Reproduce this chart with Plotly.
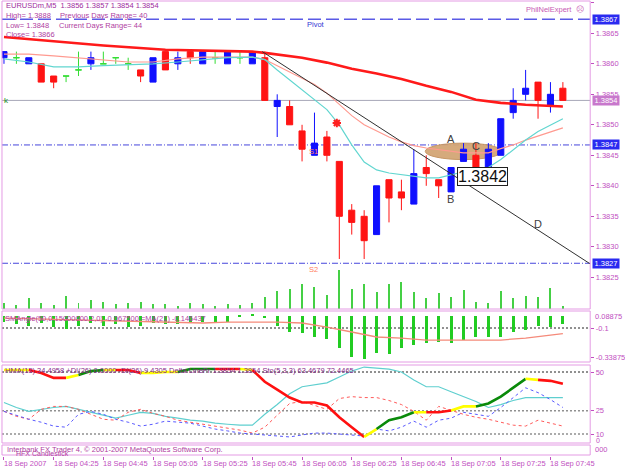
import plotly.graph_objects as go
import pandas as pd

# ---------------- data ----------------
times = list(pd.date_range("2007-09-18 04:05", periods=46, freq="5min"))

opens = [1.3861, 1.3861, 1.3860, 1.3860, 1.3858, 1.3858, 1.3859, 1.3860, 1.3860, 1.3861,
         1.3860, 1.3859, 1.3857, 1.3862, 1.3860, 1.3862, 1.3860, 1.3861, 1.3860, 1.3861,
         1.3860, 1.3861, 1.3853, 1.3853, 1.3849, 1.3845, 1.3848, 1.3844, 1.3836, 1.3835,
         1.3832, 1.3841, 1.3839, 1.3837, 1.3843, 1.3841, 1.3839, 1.3844, 1.3845, 1.3843,
         1.3845, 1.3852, 1.3855, 1.3857, 1.3853, 1.3856]
highs = [1.3862, 1.3862, 1.3861, 1.3860, 1.3858, 1.3858, 1.3862, 1.3862, 1.3862, 1.3861,
         1.3861, 1.3859, 1.3861, 1.3862, 1.3862, 1.3862, 1.3862, 1.3862, 1.3862, 1.3862,
         1.3862, 1.3862, 1.3855, 1.3854, 1.3850, 1.3852, 1.3849, 1.3844, 1.3837, 1.3836,
         1.3840, 1.3841, 1.3841, 1.3846, 1.3845, 1.3841, 1.3843, 1.3847, 1.3847, 1.3847,
         1.3851, 1.3856, 1.3859, 1.3857, 1.3857, 1.3857]
lows = [1.3860, 1.3860, 1.3860, 1.3857, 1.3856, 1.3857, 1.3858, 1.3859, 1.3860, 1.3860,
        1.3859, 1.3857, 1.3857, 1.3859, 1.3859, 1.3860, 1.3860, 1.3860, 1.3860, 1.3860,
        1.3860, 1.3854, 1.3848, 1.3850, 1.3844, 1.3845, 1.3844, 1.3828, 1.3832, 1.3828,
        1.3832, 1.3834, 1.3836, 1.3837, 1.3840, 1.3838, 1.3839, 1.3844, 1.3842, 1.3843,
        1.3845, 1.3851, 1.3854, 1.3851, 1.3852, 1.3854]
closes = [1.3862, 1.3861, 1.3861, 1.3857, 1.3857, 1.3858, 1.3859, 1.3861, 1.3860, 1.3861,
          1.3860, 1.3858, 1.3861, 1.3859, 1.3861, 1.3861, 1.3862, 1.3861, 1.3862, 1.3861,
          1.3862, 1.3854, 1.3854, 1.3850, 1.3846, 1.3847, 1.3845, 1.3835, 1.3834, 1.3831,
          1.3840, 1.3838, 1.3838, 1.3842, 1.3842, 1.3840, 1.3843, 1.3846, 1.3842, 1.3846,
          1.3851, 1.3854, 1.3856, 1.3854, 1.3855, 1.3854]
volumes = [24, 16, 44, 24, 16, 52, 24, 36, 28, 20, 24, 28, 20, 20, 12, 24, 20, 12, 20, 16,
           24, 48, 72, 80, 100, 88, 56, 156, 80, 100, 68, 100, 108, 68, 44, 64, 48, 76, 28, 24,
           72, 44, 52, 48, 84, 12]

ma_slow_bars = [0, 3, 8, 13, 20, 21, 24, 26, 28, 30, 32, 34, 36, 38, 40, 42, 44, 45]
ma_slow_vals = [1.38644, 1.38639, 1.38630, 1.38623, 1.38620, 1.38618, 1.38610, 1.38602, 1.38592,
                1.38584, 1.38575, 1.38564, 1.38554, 1.38541, 1.38536, 1.38533, 1.38531, 1.38530]
ma_mid_bars = [0, 2, 4, 6, 8, 10, 12, 14, 16, 18, 20, 21, 22, 23, 24, 25, 26, 27, 28, 29, 30,
               31, 32, 33, 34, 35, 36, 37, 38, 39, 40, 41, 42, 43, 44, 45]
ma_mid_vals = [1.38616, 1.38616, 1.38613, 1.38610, 1.38607, 1.38603, 1.38603, 1.38608, 1.38611,
               1.38611, 1.38611, 1.38607, 1.38597, 1.38587, 1.38577, 1.38566, 1.38552, 1.38534,
               1.38515, 1.38500, 1.38490, 1.38480, 1.38472, 1.38466, 1.38462, 1.38459, 1.38456,
               1.38454, 1.38454, 1.38454, 1.38461, 1.38467, 1.38475, 1.38482, 1.38489, 1.38495]
ma_fast_bars = ma_mid_bars
ma_fast_vals = [1.38608, 1.38603, 1.38595, 1.38595, 1.38597, 1.38598, 1.38600, 1.38603, 1.38607,
                1.38610, 1.38611, 1.38607, 1.38590, 1.38574, 1.38557, 1.38541, 1.38525, 1.38500,
                1.38467, 1.38439, 1.38426, 1.38421, 1.38418, 1.38415, 1.38413, 1.38413, 1.38418,
                1.38423, 1.38426, 1.38430, 1.38443, 1.38459, 1.38475, 1.38489, 1.38500, 1.38510]

trend_times = ["2007-09-18 05:49", "2007-09-18 08:01"]
trend_prices = [1.38620, 1.38272]

pivot_levels = {"pivot": 1.38673, "s1": 1.38467, "s2": 1.38273}
bid_price = 1.3854
price_ticks = [1.3825, 1.3830, 1.3835, 1.3840, 1.3845, 1.3850, 1.3855, 1.3860, 1.3865, 1.3870]

# SMAngle panel
sma_hist = [-0.05, -0.07, -0.08, -0.06, -0.09, -0.11, -0.08, -0.06, -0.08, -0.07, -0.09, -0.08,
            -0.06, -0.07, -0.07, -0.06, -0.05, -0.06, -0.05, -0.01, 0.01, -0.02,
            -0.084, -0.133, -0.142, -0.174, -0.191, -0.265, -0.339, -0.356, -0.306, -0.314,
            -0.265, -0.240, -0.224, -0.216, -0.224, -0.199, -0.174, -0.174, -0.174, -0.133,
            -0.117, -0.084, -0.092, -0.0675]
sma_ma_bars = [0, 9, 16, 18, 22, 24, 26, 28, 30, 32, 34, 36, 38, 40, 42, 44, 45]
sma_ma_vals = [-0.018, -0.043, -0.059, -0.051, -0.051, -0.059, -0.092, -0.133, -0.174, -0.183,
               -0.199, -0.199, -0.199, -0.199, -0.183, -0.158, -0.146]

# lower oscillator panel
osc_main = [51.3, 51.3, 51.3, 49.4, 46.2, 46.2, 48.1, 50.6, 51.3, 51.3, 51.3, 49.4, 49.4, 50.0,
            50.0, 51.9, 51.9, 51.9, 51.9, 51.9, 51.3, 43.7, 38.6, 33.5, 30.3, 30.3, 28.4, 20.8,
            14.4, 8.1, 13.2, 18.9, 20.8, 24.0, 24.0, 24.0, 25.2, 27.8, 27.8, 29.7, 34.1, 39.8,
            45.6, 44.9, 44.3, 42.4]
osc_state = ["Y", "Y", "Y", "R", "R", "R", "Y", "G", "G", "Y", "R", "R", "Y", "Y", "Y", "G", "G",
             "G", "R", "R", "Y", "R", "R", "R", "R", "R", "R", "R", "R", "R", "Y", "G", "G", "G",
             "Y", "R", "R", "Y", "Y", "G", "G", "G", "G", "Y", "R", "R"]
osc_cyan = [30.3, 27.1, 24.6, 25.9, 27.1, 27.8, 25.9, 24.0, 22.1, 20.2, 22.1, 24.0, 23.3, 21.4,
            20.2, 18.9, 18.3, 17.0, 16.3, 15.7, 15.7, 22.7, 29.0, 36.0, 40.5, 41.7, 43.0, 46.8,
            50.6, 53.2, 52.5, 51.9, 50.0, 44.9, 40.5, 40.5, 37.3, 34.1, 31.0, 27.1, 29.0, 31.6,
            33.5, 33.5, 33.5, 33.5]
osc_red = [24.6, 21.4, 19.5, 25.9, 27.8, 27.8, 25.9, 22.7, 19.5, 18.9, 24.0, 25.9, 23.3, 21.4,
           18.9, 17.6, 16.3, 15.1, 13.8, 12.5, 10.6, 14.4, 22.1, 29.7, 31.0, 28.4, 25.9, 32.9,
           34.1, 33.5, 33.5, 31.6, 29.0, 24.6, 18.9, 27.8, 25.2, 22.7, 20.8, 19.5, 17.6, 15.7,
           15.1, 18.9, 17.0, 15.1]
osc_blue = [24.6, 22.1, 19.5, 17.6, 15.1, 14.4, 22.7, 24.6, 22.7, 19.5, 17.6, 15.1, 16.3, 18.3,
            17.6, 17.0, 15.1, 13.2, 12.0, 10.6, 10.0, 9.4, 8.7, 8.1, 9.4, 10.6, 10.6, 10.0, 9.4,
            8.7, 13.2, 12.0, 14.4, 18.3, 14.4, 18.9, 20.2, 24.0, 22.7, 21.4, 27.1, 33.5, 39.8,
            36.7, 32.2, 27.1]
osc_levels = [50, 25, 10]

tick_times = ["2007-09-18 04:05", "2007-09-18 04:25", "2007-09-18 04:45", "2007-09-18 05:05",
              "2007-09-18 05:25", "2007-09-18 05:45", "2007-09-18 06:05", "2007-09-18 06:25",
              "2007-09-18 06:45", "2007-09-18 07:05", "2007-09-18 07:25", "2007-09-18 07:45"]
tick_texts = ["18 Sep 2007", "18 Sep 04:25", "18 Sep 04:45", "18 Sep 05:05", "18 Sep 05:25",
              "18 Sep 05:45", "18 Sep 06:05", "18 Sep 06:25", "18 Sep 06:45", "18 Sep 07:05",
              "18 Sep 07:25", "18 Sep 07:45"]

# ---------------- layout helpers ----------------
W, H = 625, 469
def px(x):
    return x / W
def py(y):
    return 1 - y / H

FONT = "Liberation Sans"
PINK = "#c14fc1"
BORDER = "#e49be4"
XDOM = [px(2), px(594)]

fig = go.Figure()

# candles
bull = [i for i in range(46) if closes[i] > opens[i]]
bear = [i for i in range(46) if closes[i] < opens[i]]
doji = [i for i in range(46) if closes[i] == opens[i]]
for idx, col in ((bull, "#1010ff"), (bear, "#ff1414"), (doji, "#33dd33")):
    fig.add_trace(go.Candlestick(
        x=[times[i] for i in idx], open=[opens[i] for i in idx], high=[highs[i] for i in idx],
        low=[lows[i] for i in idx], close=[closes[i] for i in idx],
        increasing=dict(line=dict(color=col, width=1), fillcolor=col),
        decreasing=dict(line=dict(color=col, width=1), fillcolor=col),
        whiskerwidth=0, showlegend=False, hoverinfo="skip", xaxis="x", yaxis="y"))

# moving averages
fig.add_trace(go.Scatter(x=[times[i] for i in ma_mid_bars], y=ma_mid_vals, mode="lines",
                         line=dict(color="#ff9a90", width=1.2), xaxis="x", yaxis="y", showlegend=False))
fig.add_trace(go.Scatter(x=[times[i] for i in ma_fast_bars], y=ma_fast_vals, mode="lines",
                         line=dict(color="#62d6d0", width=1.2), xaxis="x", yaxis="y", showlegend=False))
fig.add_trace(go.Scatter(x=[times[i] for i in ma_slow_bars], y=ma_slow_vals, mode="lines",
                         line=dict(color="#ff1a1a", width=2.6), xaxis="x", yaxis="y", showlegend=False))
# trend line
fig.add_trace(go.Scatter(x=trend_times, y=trend_prices, mode="lines",
                         line=dict(color="#303030", width=1), xaxis="x", yaxis="y", showlegend=False))
# red star object
fig.add_trace(go.Scatter(x=["2007-09-18 06:19"], y=[1.38503], mode="markers",
                         marker=dict(symbol="asterisk-open", size=7, color="#ff2020",
                                     line=dict(color="#ff2020", width=2)),
                         xaxis="x", yaxis="y", showlegend=False))

# volumes (overlay on main)
fig.add_trace(go.Bar(x=times, y=volumes, width=24000, marker=dict(color="#45d045", line_width=0),
                     xaxis="x", yaxis="y5", showlegend=False))

# SMAngle histogram + MA
fig.add_trace(go.Bar(x=times, y=sma_hist, width=72000, marker=dict(color="#22cc22", line_width=0),
                     xaxis="x", yaxis="y2", showlegend=False))
fig.add_trace(go.Scatter(x=[times[i] for i in sma_ma_bars], y=sma_ma_vals, mode="lines",
                         line=dict(color="#f58a7a", width=1.3), xaxis="x", yaxis="y2", showlegend=False))

# oscillator panel
fig.add_trace(go.Scatter(x=times, y=osc_cyan, mode="lines", line=dict(color="#5fcfcf", width=1.2),
                         xaxis="x", yaxis="y3", showlegend=False))
fig.add_trace(go.Scatter(x=times, y=osc_red, mode="lines",
                         line=dict(color="#ff5a5a", width=1, dash="3px,3px"),
                         xaxis="x", yaxis="y3", showlegend=False))
fig.add_trace(go.Scatter(x=times, y=osc_blue, mode="lines",
                         line=dict(color="#5a5aff", width=1, dash="3px,3px"),
                         xaxis="x", yaxis="y3", showlegend=False))
state_col = {"Y": "#ffff00", "R": "#ff1010", "G": "#0a8a0a"}
start = 0
for i in range(1, 46):
    end_run = (i == 45) or (osc_state[i + 1] != osc_state[i])
    if end_run:
        seg = list(range(start, i + 1))
        fig.add_trace(go.Scatter(x=[times[k] for k in seg], y=[osc_main[k] for k in seg],
                                 mode="lines", line=dict(color=state_col[osc_state[i]], width=2.6),
                                 xaxis="x", yaxis="y3", showlegend=False))
        start = i

# ---------------- axes ----------------
axis_common = dict(showgrid=False, zeroline=False, showline=False, side="right", anchor="x",
                   ticks="outside", ticklen=3, tickcolor=PINK,
                   tickfont=dict(family=FONT, size=7.5, color=PINK))
fig.update_layout(
    width=W, height=H, margin=dict(l=0, r=0, t=0, b=0),
    paper_bgcolor="white", plot_bgcolor="rgba(0,0,0,0)",
    font=dict(family=FONT, size=8, color=PINK),
    showlegend=False, bargap=0, boxmode="overlay",
    xaxis=dict(domain=XDOM, range=["2007-09-18 04:04:12", "2007-09-18 08:01:00"],
               type="date", rangeslider=dict(visible=False), showgrid=False, zeroline=False,
               showline=False, showticklabels=False, anchor="free", position=py(456),
               tickvals=tick_times, ticks="outside", ticklen=3, tickcolor=PINK),
    yaxis=dict(domain=[py(309), py(1)], range=[1.38198, 1.38703], tickvals=price_ticks,
               ticktext=["%.4f" % v for v in price_ticks], **axis_common),
    yaxis5=dict(overlaying="y", range=[0, 1232], visible=False, anchor="x"),
    yaxis2=dict(domain=[py(362), py(311)], range=[-0.3798, 0.0399],
                tickvals=[-0.1, -0.33875], ticktext=["-0.1", "-0.33875"], **axis_common),
    yaxis3=dict(domain=[py(443), py(365)], range=[4.19, 54.52],
                tickvals=osc_levels, ticktext=[str(v) for v in osc_levels], **axis_common),
    yaxis4=dict(domain=[py(455), py(445)], range=[0, 1], showticklabels=False, ticks="",
                showgrid=False, zeroline=False, anchor="x", side="right"),
)

shapes = []
# panel borders
for top, bot in ((1, 309), (311, 362), (365, 443), (445, 455)):
    shapes.append(dict(type="rect", xref="paper", yref="paper", x0=px(2), x1=px(594),
                       y0=py(bot), y1=py(top), line=dict(color=BORDER, width=1), layer="above"))
# horizontal levels
shapes.append(dict(type="line", xref="paper", yref="y", x0=XDOM[0], x1=XDOM[1],
                   y0=pivot_levels["pivot"], y1=pivot_levels["pivot"],
                   line=dict(color="#5a5ae6", width=1.6, dash="13px,5px"), layer="below"))
for k in ("s1", "s2"):
    shapes.append(dict(type="line", xref="paper", yref="y", x0=XDOM[0], x1=XDOM[1],
                       y0=pivot_levels[k], y1=pivot_levels[k],
                       line=dict(color="#4646dc", width=1, dash="6px,2px,1px,2px"), layer="below"))
shapes.append(dict(type="line", xref="paper", yref="y", x0=XDOM[0], x1=XDOM[1],
                   y0=bid_price, y1=bid_price, line=dict(color="#a8a8b8", width=1), layer="below"))
shapes.append(dict(type="line", xref="paper", yref="y2", x0=XDOM[0], x1=XDOM[1],
                   y0=-0.1, y1=-0.1, line=dict(color="#202020", width=1, dash="2px,2px"), layer="below"))
for v, c in zip(osc_levels, ("#202020", "#909090", "#909090")):
    shapes.append(dict(type="line", xref="paper", yref="y3", x0=XDOM[0], x1=XDOM[1],
                       y0=v, y1=v, line=dict(color=c, width=1.5 if c != "#202020" else 1,
                                             dash="2px,2px"), layer="below"))
# ellipse object
shapes.append(dict(type="circle", xref="x", yref="y",
                   x0="2007-09-18 06:54:36", x1="2007-09-18 07:25:24", y0=1.38443, y1=1.38470,
                   fillcolor="#d3a676", line=dict(color="#c4925e", width=1), opacity=0.95,
                   layer="below"))
fig.update_layout(shapes=shapes)

ann = []
def txt(x, y, s, color=PINK, size=7.5, xanchor="left", **kw):
    ann.append(dict(x=x, y=y, xref="paper", yref="paper", text=s, showarrow=False,
                    xanchor=xanchor, yanchor="middle", font=dict(family=FONT, size=size, color=color),
                    **kw))

txt(px(4), py(6), "EURUSDm,M5  1.3856 1.3857 1.3854 1.3854", color="#a02ca0")
txt(px(4), py(15), "High= 1.3888", color="#b0409f")
txt(px(58), py(15), "Previous Days Range= 40", color="#b0409f")
txt(px(4), py(25), "Low= 1.3848", color="#b0409f")
txt(px(57), py(25), "Current Days Range= 44", color="#b0409f")
txt(px(4), py(34), "Close= 1.3866", color="#b0409f")
txt(px(590), py(9), "PhilNelExpert  ☹", color="#c85ab4", xanchor="right")
txt(px(2), py(100), "k", color="#1a8a1a", size=8)
txt(px(3), py(318), "SMAngle(50,0.15000000,2,0) -0.067500 =MA(21) -0.146437", color="#b0409f")
txt(px(3), py(370), "HMA(13) 34.4958 +DI(26) 0.0000 -DI(26) 9.4305 Delta LinePr 1.3854 1.3854 Sto(5,3,3) 63.4679 72.4465",
    color="#8a2a8a")
txt(px(5), py(449), "Interbank FX Trader 4, © 2001-2007 MetaQuotes Software Corp.", color="#b0409f")
txt(px(14), py(453), "HFX Candlestick", color="#b0409f", size=7)
txt(px(597), py(316), "0.08875")
txt(px(598), py(440), "0", size=7)
txt(px(597), py(449), "000")

# time labels
for t, s in zip(tick_times, tick_texts):
    ann.append(dict(x=t, y=py(463), xref="x", yref="paper", text=s, showarrow=False,
                    xanchor="left", yanchor="middle", xshift=-2,
                    font=dict(family=FONT, size=7.5, color=PINK)))

# highlighted price labels on axis
for v, bg in ((pivot_levels["pivot"], "#2a2af0"), (bid_price, "#c878cc"),
              (pivot_levels["s1"], "#2a2af0"), (pivot_levels["s2"], "#2a2af0")):
    ann.append(dict(x=px(596), y=v, xref="paper", yref="y", text="%.4f" % v, showarrow=False,
                    xanchor="left", yanchor="middle", bgcolor=bg, borderpad=0, width=26,
                    font=dict(family=FONT, size=7.5, color="white")))

# chart objects (data coordinates)
objs = [("Pivot", "2007-09-18 06:06", 1.38664, "#3434d4", 7.5),
        ("S1", "2007-09-18 06:07", 1.38456, "#ff8060", 7.5),
        ("S2", "2007-09-18 06:07", 1.38262, "#ff8060", 7.5),
        ("A", "2007-09-18 07:02:30", 1.38477, "#404040", 11),
        ("C", "2007-09-18 07:12:30", 1.38466, "#404040", 11),
        ("B", "2007-09-18 07:02:30", 1.38379, "#404040", 11),
        ("D", "2007-09-18 07:37:30", 1.38338, "#404040", 11)]
for s, t, p, c, sz in objs:
    ann.append(dict(x=t, y=p, xref="x", yref="y", text=s, showarrow=False, xanchor="left",
                    yanchor="middle", font=dict(family=FONT, size=sz, color=c)))
ann.append(dict(x="2007-09-18 07:07:30", y=1.38416, xref="x", yref="y", text="1.3842",
                showarrow=False, xanchor="left", yanchor="middle", bgcolor="white",
                bordercolor="#202020", borderwidth=1, borderpad=0,
                font=dict(family=FONT, size=16, color="#101010")))
fig.update_layout(annotations=ann)

fig.write_html("out.html")
